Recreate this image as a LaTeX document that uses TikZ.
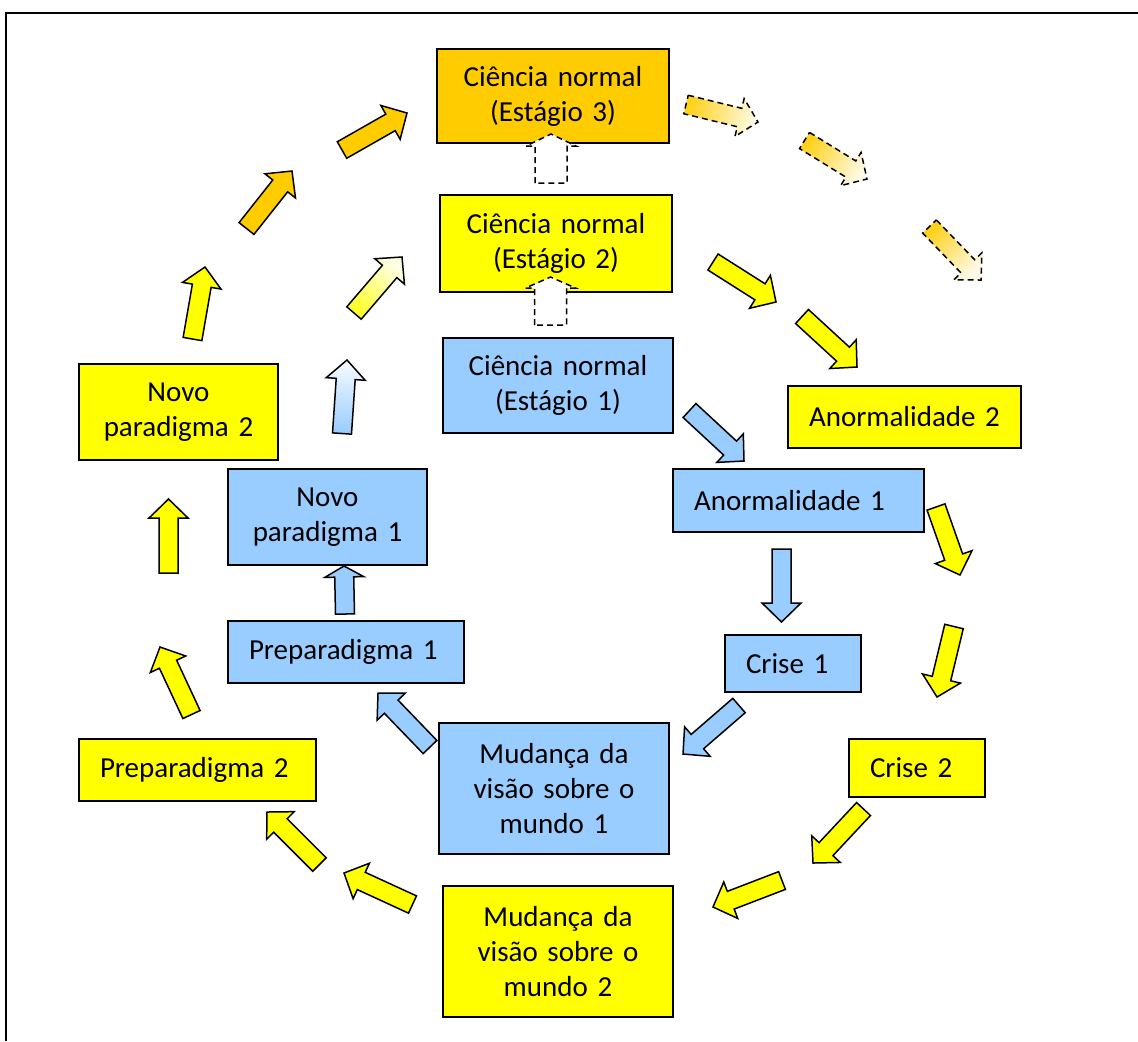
\documentclass[tikz,border=0pt]{standalone}
\usepackage{fontspec}
\setmainfont{Carlito}
\usetikzlibrary{calc}
\definecolor{skyblue}{HTML}{99CCFF}
\definecolor{lemon}{HTML}{FFFF00}
\definecolor{amber}{HTML}{FFCC00}
\newcommand{\blockarrow}[6][]{%
  \coordinate (neck) at ($(#3)!#6!(#2)$);
  \draw[#1] ($(#2)!#4!90:(#3)$) -- ($(neck)!#4!90:(#3)$) -- ($(neck)!#5!90:(#3)$) -- (#3)
    -- ($(neck)!#5!-90:(#3)$) -- ($(neck)!#4!-90:(#3)$) -- ($(#2)!#4!-90:(#3)$) -- cycle;}
\newcommand{\fatarrow}[3][]{\blockarrow[#1]{#2}{#3}{4.75pt}{9.75pt}{9.5pt}}
\begin{document}
\begin{tikzpicture}[x=0.5pt, y=-0.5pt,
  box/.style={draw, line width=0.8pt, inner xsep=10.5pt, inner ysep=0pt, align=center, font=\fontsize{14.5pt}{17.5pt}\selectfont},
  lbox/.style={box, align=left},
  arrowline/.style={draw, line width=0.75pt, line join=miter},
  blue arrow/.style={arrowline, fill=skyblue},
  yellow arrow/.style={arrowline, fill=lemon},
  orange arrow/.style={arrowline, fill=amber},
  ghost arrow/.style={arrowline, dash pattern=on 3pt off 2pt, fill=white},
  fade arrow/.style={arrowline, dash pattern=on 3pt off 2pt, top color=amber!10!white, bottom color=amber!90!white, shading angle=#1}]
			\useasboundingbox (0,0) rectangle (1138,1041);
			\draw[line width=1pt] (6,1041) -- (6,13) -- (1138,13);

			\node[box, fill=amber, text width=95pt, minimum height=47pt] (cn3) at (553,96) {Ciência normal\\(Estágio 3)};
			\node[box, fill=lemon, text width=95pt, minimum height=48.5pt] (cn2) at (556,243.5) {Ciência normal\\(Estágio 2)};
			\node[box, fill=skyblue, text width=94pt, minimum height=47.5pt] (cn1) at (558,385.5) {Ciência normal\\(Estágio 1)};
			\node[lbox, fill=lemon, text width=95.5pt, minimum height=31pt] (anorm2) at (904.5,417) {Anormalidade 2};
			\node[lbox, fill=skyblue, text width=104.5pt, minimum height=31.5pt] (anorm1) at (798.5,500.5) {Anormalidade 1};
			\node[lbox, fill=skyblue, text width=47pt, minimum height=28.5pt] (crise1) at (793,663.5) {Crise 1};
			\node[lbox, fill=lemon, text width=47pt, minimum height=29pt] (crise2) at (917,768) {Crise 2};
			\node[box, fill=skyblue, text width=94pt, minimum height=65.5pt] (mudanca1) at (554,788.5) {Mudança da\\visão sobre o\\mundo 1};
			\node[box, fill=lemon, text width=94pt, minimum height=65.5pt] (mudanca2) at (558,951.5) {Mudança da\\visão sobre o\\mundo 2};
			\node[lbox, fill=lemon, text width=97.5pt, minimum height=31pt] (prep2) at (197.5,770) {Preparadigma 2};
			\node[lbox, fill=skyblue, text width=97pt, minimum height=31pt] (prep1) at (346,652) {Preparadigma 1};
			\node[box, fill=skyblue, text width=78.5pt, minimum height=48pt] (novo1) at (327.5,517) {Novo\\paradigma 1};
			\node[box, fill=lemon, text width=78.5pt, minimum height=48pt] (novo2) at (178.5,412) {Novo\\paradigma 2};

			\fatarrow[blue arrow]{689.5,410.5}{744,461}
			\fatarrow[blue arrow]{781.5,549}{781.5,622}
			\fatarrow[blue arrow]{739,705.5}{683,754}
			\fatarrow[blue arrow]{430,747}{378,693}
			\blockarrow[blue arrow]{345,614}{344,566}{4.75pt}{9.75pt}{5.5pt}
			\fatarrow[arrowline, top color=skyblue!8!white, bottom color=skyblue, shading angle=-4]{342,433.5}{347,360}

			\fatarrow[yellow arrow]{713,262}{776,302}
			\fatarrow[yellow arrow]{802,316.5}{857,367}
			\fatarrow[yellow arrow]{936,507}{960,575}
			\fatarrow[yellow arrow]{954,626.5}{937,697}
			\fatarrow[yellow arrow]{863.5,809}{813,863}
			\fatarrow[yellow arrow]{782,880.5}{713,907}
			\fatarrow[yellow arrow]{412.5,904.5}{344,873}
			\fatarrow[yellow arrow]{319.5,864.5}{267,812}
			\fatarrow[yellow arrow]{191.5,714.5}{160,647}
			\fatarrow[yellow arrow]{168.5,573}{168.5,499}
			\fatarrow[yellow arrow]{192.5,339}{205,267}
			\fatarrow[arrowline, top color=lemon!10!white, bottom color=lemon!85!white, shading angle=-41]{354,313}{402,257}

			\fatarrow[orange arrow]{246.5,228.5}{292,171}
			\fatarrow[orange arrow]{342,150}{407,113}
			\fatarrow[fade arrow=-104]{686,104.5}{758,122}
			\fatarrow[fade arrow=-122]{804.5,140.5}{867,179}
			\fatarrow[fade arrow=-136]{929.5,226.5}{981,280}

			\blockarrow[ghost arrow]{551,183}{551,134}{8pt}{12.5pt}{6pt}
			\blockarrow[ghost arrow]{550.5,325}{550.5,277}{8pt}{12.5pt}{5.5pt}
		\end{tikzpicture}
\end{document}
